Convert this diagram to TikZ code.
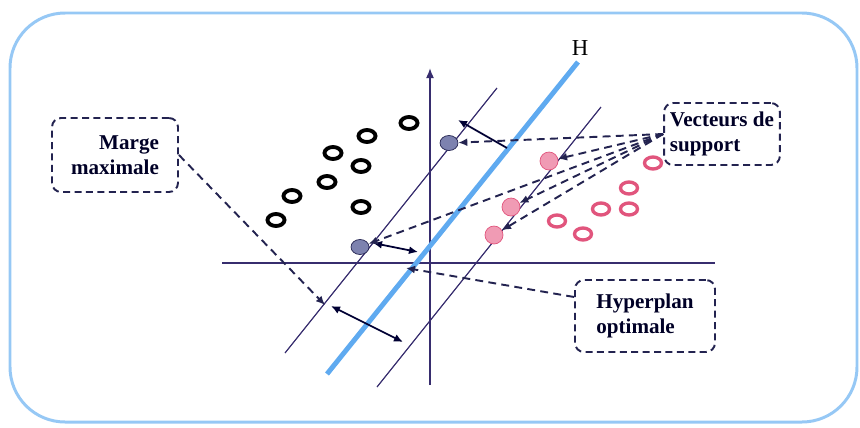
\documentclass[tikz,border=0pt]{standalone}
\usepackage{fontspec}
\setmainfont{Liberation Serif}
\usetikzlibrary{arrows.meta,shapes.geometric}
\definecolor{frame-blue}{RGB}{150,200,245}
\definecolor{h-blue}{RGB}{95,170,240}
\definecolor{dark-navy}{RGB}{35,35,80}
\definecolor{axis-navy}{RGB}{55,45,110}
\definecolor{pink-ring}{RGB}{225,85,125}
\definecolor{pink-fill}{RGB}{240,155,180}
\definecolor{sv-gray}{RGB}{125,130,175}

\begin{document}
\begin{tikzpicture}
[
  x=0.02cm, y=-0.02cm,
  ring/.style={ellipse,draw=black,line width=2.2pt,minimum width=0.34cm,minimum height=0.24cm,inner sep=0pt},
  pinkring/.style={ring,draw=pink-ring,line width=1.9pt},
  svgray/.style={ellipse,draw=dark-navy,fill=sv-gray,thin,minimum width=0.36cm,minimum height=0.3cm,inner sep=0pt},
  svpink/.style={circle,draw=pink-ring,fill=pink-fill,thin,minimum size=0.36cm,inner sep=0pt},
  textbox/.style={draw=dark-navy,line width=1.1pt,dash pattern=on 4pt off 2.5pt,rounded corners=0.18cm,
    font=\fontsize{12}{14.5}\selectfont\bfseries,text=black!85!blue},
  pointer/.style={dark-navy,line width=1.1pt,dash pattern=on 4.5pt off 3pt,-{Latex[length=1.8mm,width=1.6mm]}},
  marginline/.style={axis-navy,line width=0.7pt},
  span/.style={black!80!blue,line width=1pt,{Latex[length=1.8mm,width=1.6mm]}-{Latex[length=1.8mm,width=1.6mm]}},
]
\useasboundingbox (0,0) rectangle (860,427);
\draw[frame-blue,line width=1.7pt,rounded corners=1.1cm] (10,13) rectangle (857,422);

\coordinate (yb) at (430,385);
\coordinate (yt) at (430,68);
\coordinate (xl) at (222,263);
\coordinate (xr) at (715,263);
\draw[axis-navy,line width=0.9pt,-{Latex[length=2mm,width=1.6mm]}] (yb) -- (yt);
\draw[axis-navy,line width=0.9pt] (xl) -- (xr);

\coordinate (ml-b) at (285,353);
\coordinate (ml-t) at (497,88);
\coordinate (mr-b) at (377,387);
\coordinate (mr-t) at (601,107);
\coordinate (h-b) at (327,374);
\coordinate (h-t) at (578,62);
\draw[marginline] (ml-b) -- (ml-t);
\draw[marginline] (mr-b) -- (mr-t);
\draw[h-blue,line width=2.8pt] (h-b) -- (h-t);
\node[font=\fontsize{13}{15}\selectfont] (hlabel) at (580,48) {H};

\foreach \x/\y [count=\i] in {409/123,367/136,333/153,361/166,327/182,292/196,361/207,276/220}
    \node[ring] (neg\i) at (\x,\y) {};
\foreach \x/\y [count=\i] in {653/163,629/188,601/209,629/209,557/221,583/234}
    \node[pinkring] (pos\i) at (\x,\y) {};

\node[svgray] (sv-a) at (449,143) {};
\node[svgray] (sv-b) at (360,247) {};
\node[svpink] (sv-c) at (549,161) {};
\node[svpink] (sv-d) at (511,207) {};
\node[svpink] (sv-e) at (494,235) {};

\coordinate (a1s) at (507,148);
\coordinate (a1e) at (458,120);
\coordinate (a2s) at (373,243);
\coordinate (a2e) at (418,252);
\coordinate (a3s) at (331,306);
\coordinate (a3e) at (403,342);
\draw[black!80!blue,line width=1pt,-{Latex[length=1.8mm,width=1.6mm]}] (a1s) -- (a1e);
\draw[span] (a2s) -- (a2e);
\draw[span] (a3s) -- (a3e);

\node[textbox,align=right,minimum width=2.52cm,minimum height=1.48cm] (marge) at (115,155) {Marge\\maximale};
\node[textbox,align=left,minimum width=2.2cm,minimum height=1.24cm] (vect) at (722,134) {Vecteurs de\\support};
\node[textbox,align=left,minimum width=2.8cm,minimum height=1.44cm] (hyp) at (645,316) {Hyperplan\\optimale};

\coordinate (mpt) at (325,305);
\coordinate (hpt) at (406,268);
\draw[pointer] (marge.east) -- (mpt);
\draw[pointer] (hyp.165) -- (hpt);
\foreach \t in {sv-a,sv-b,sv-c,sv-d,sv-e}
    \draw[pointer] (vect.west) -- (\t);
\end{tikzpicture}
\end{document}
